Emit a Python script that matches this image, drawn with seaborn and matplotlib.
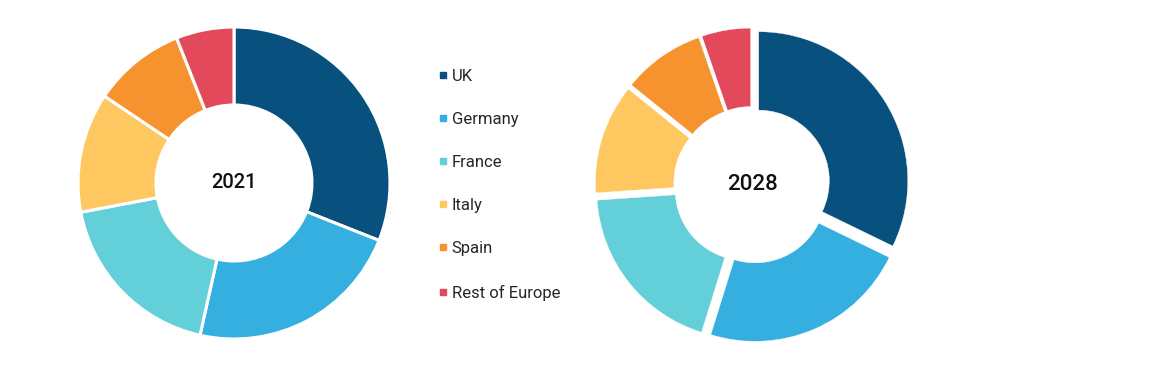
import matplotlib.pyplot as plt
import seaborn as sns
from matplotlib.lines import Line2D

regions = ["UK", "Germany", "France", "Italy", "Spain", "Rest of Europe"]
share_2021 = [31.0, 22.5, 18.5, 12.4, 9.6, 6.0]
share_2028 = [32.2, 22.6, 19.1, 11.9, 8.9, 5.3]
colors = ["#08507D", "#35AEE0", "#63CFD8", "#FFC75F", "#F7932F", "#E24A5B"]

sns.set_theme(style="white")
plt.rcParams["font.family"] = ["Roboto", "DejaVu Sans"]

W, H = 1169, 368
fig = plt.figure(figsize=(W / 100, H / 100), dpi=100)


def donut(cx, cy, r, values, label, explode, lw, fs):
    ax = fig.add_axes([(cx - r) / W, (H - cy - r) / H, 2 * r / W, 2 * r / H])
    ax.pie(values, colors=colors, startangle=90, counterclock=False,
           radius=1.0 - explode,
           explode=[explode] * len(values),
           wedgeprops=dict(width=0.5, edgecolor="white", linewidth=lw))
    ax.set_xlim(-1, 1)
    ax.set_ylim(-1, 1)
    ax.set_aspect("equal")
    ax.axis("off")
    ax.text(0, 0, label, ha="center", va="center", fontsize=fs,
            color="#111111", fontweight="medium")
    return ax


donut(234, 183, 156, share_2021, "2021", 0.0, 2.2, 14.5)
donut(752, 185, 157, share_2028, "2028", 0.05, 0.3, 16)

handles = [Line2D([], [], marker="s", linestyle="", markersize=5,
                  markerfacecolor=c, markeredgecolor=c) for c in colors]
fig.legend(handles, regions, loc="upper left",
           bbox_to_anchor=(431 / W, 1 - 62 / H), frameon=False,
           fontsize=12, handlelength=0.6, handletextpad=0.25,
           labelspacing=1.69, borderaxespad=0)

fig.savefig("out.png", dpi=100, facecolor="white")
